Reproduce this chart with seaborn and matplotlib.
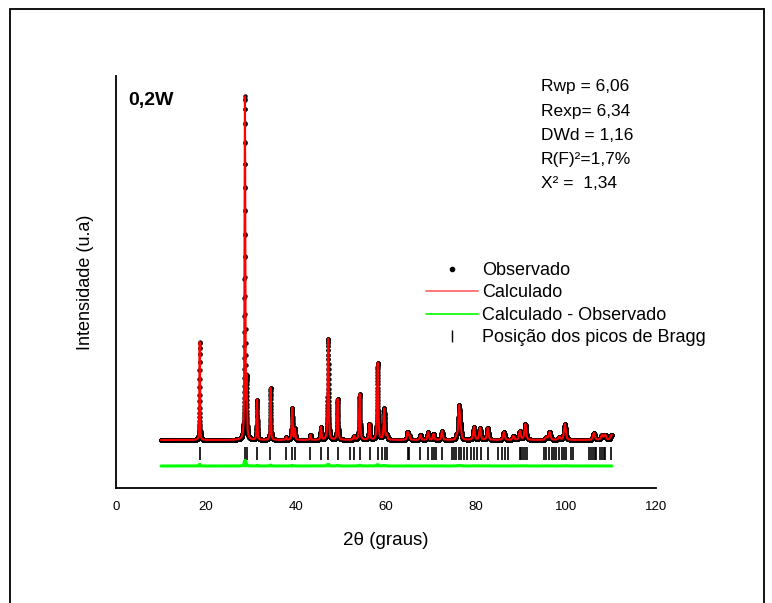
import numpy as np
import pandas as pd
import seaborn as sns
import matplotlib.pyplot as plt
from matplotlib.lines import Line2D

# ---------------- data ----------------
# reflection positions (2theta, deg) and peak heights above background (counts)
peak_pos = [18.6, 28.65, 29.05, 31.35, 34.35, 37.8, 39.15, 39.75, 43.2, 45.55,
            47.15, 49.25, 52.9, 54.15, 56.3, 58.15, 59.6, 60.2, 64.8, 65.2,
            67.65, 69.35, 70.55, 72.45, 75.7, 76.25, 76.6, 79.55, 80.9, 82.6,
            86.2, 88.3, 89.75, 90.95, 95.6, 96.35, 98.5, 99.75, 106.2, 108.0,
            108.7, 110.1]
peak_height = [2940, 10260, 1650, 1200, 1560, 90, 960, 330, 150, 390,
               3030, 1230, 120, 1380, 480, 2310, 930, 150, 240, 120,
               150, 240, 180, 270, 120, 990, 300, 390, 360, 360,
               240, 120, 270, 480, 90, 240, 90, 480, 210, 150,
               150, 150]
background = 300.0

# Bragg reflection markers (2theta)
bragg_pos = [18.59, 28.6, 29.0, 31.36, 34.30, 37.79, 39.06, 39.70, 43.11, 45.49,
             47.16, 49.30, 52.0, 52.79, 54.14, 56.36, 58.19, 59.14, 59.70, 60.18,
             64.9, 65.1, 67.64, 69.30, 70.25, 70.65, 71.05, 72.48, 74.62, 75.02,
             75.57, 76.21, 76.60, 77.24, 78.03, 78.83, 79.54, 80.33, 81.21, 82.56,
             84.78, 85.73, 86.37, 87.16, 89.70, 90.10, 90.49, 90.89, 91.44, 95.10,
             95.65, 96.29, 96.84, 97.40, 97.87, 98.43, 99.06, 99.62, 100.02, 101.05,
             101.60, 105.18, 105.57, 105.97, 106.36, 106.76, 107.56, 107.95, 108.35,
             108.75, 110.10]

stats_lines = ["Rwp = 6,06", "Rexp= 6,34", "DWd = 1,16", "R(F)²=1,7%", "X² =  1,34"]
sample_label = "0,2W"
xticks = [0, 20, 40, 60, 80, 100, 120]

# ---------------- profile from the peak list ----------------
two_theta = np.arange(10.0, 110.2, 0.01)


def pseudo_voigt(x, x0, fwhm, eta=0.55):
    d = (x - x0) / fwhm
    return eta / (1 + 4 * d ** 2) + (1 - eta) * np.exp(-4 * np.log(2) * d ** 2)


def profile(scale):
    y = np.full_like(two_theta, background)
    for p, h in zip(peak_pos, peak_height):
        w = (0.12 + 0.004 * (p - 10)) * scale
        y += h * pseudo_voigt(two_theta, p, w)
    return y


calc = profile(1.0)
obs = profile(0.975)
diff_offset = -480
diff = calc - obs + diff_offset

df = pd.DataFrame({"x": two_theta, "obs": obs, "calc": calc, "diff": diff})

# ---------------- figure ----------------
sns.set_theme(style="white")
plt.rcParams['font.family'] = ['Liberation Sans', 'DejaVu Sans']
plt.rcParams['text.color'] = 'black'
plt.rcParams['axes.labelcolor'] = 'black'
plt.rcParams['xtick.color'] = 'black'
plt.rcParams['ytick.color'] = 'black'

fig = plt.figure(figsize=(7.72, 6.03), dpi=100)
ax = fig.add_axes([116 / 772, 1 - 488 / 603, 540 / 772, 412 / 603])

sns.scatterplot(data=df, x="x", y="obs", ax=ax, color="black", s=10,
                linewidth=0, marker="o", zorder=2)
sns.lineplot(data=df, x="x", y="calc", ax=ax, color="#ff0000", lw=1.5,
             estimator=None, sort=False, zorder=3)
sns.lineplot(data=df, x="x", y="diff", ax=ax, color="#00ff00", lw=2.2,
             estimator=None, sort=False, zorder=3)
ax.vlines(bragg_pos, -300, 90, color="black", lw=1.2, zorder=2)

ax.set_xlim(0, 120)
ax.set_ylim(-1140, 11220)
ax.set_xticks(xticks)
ax.set_xticklabels([str(t) for t in xticks], fontsize=9.5, color="black")
ax.set_yticks([])
ax.tick_params(axis="x", length=0, pad=9)
ax.set_xlabel("2θ (graus)", fontsize=13.5, labelpad=14, color="black")
ax.set_ylabel("Intensidade (u.a)", fontsize=13, labelpad=16, color="black")

for s in ["top", "right"]:
    ax.spines[s].set_visible(False)
for s in ["left", "bottom"]:
    ax.spines[s].set_color("black")
    ax.spines[s].set_linewidth(1.3)

# legend
handles = [
    Line2D([], [], ls="none", marker="o", color="black", markersize=3),
    Line2D([], [], color="#ff6060", lw=1.2),
    Line2D([], [], color="#00ff00", lw=1.2),
    Line2D([], [], ls="none", marker="|", color="black", markersize=8),
]
labels = ["Observado", "Calculado", "Calculado - Observado",
          "Posição dos picos de Bragg"]
leg = ax.legend(handles, labels, loc="upper left",
                bbox_to_anchor=((426 - 116) / 540, (488 - 262) / 412),
                frameon=False, fontsize=13, handlelength=2.9, handletextpad=0.2,
                borderpad=0, borderaxespad=0, labelspacing=0.3)
for t in leg.get_texts():
    t.set_color("black")

# statistics text
for i, line in enumerate(stats_lines):
    fig.text(541 / 772, 1 - (87 + i * 24.2) / 603, line, fontsize=12.5,
             va="center", ha="left", color="black")

fig.text(128 / 772, 1 - 100 / 603, sample_label, fontsize=14,
         fontweight="bold", va="center", ha="left", color="black")

# outer frame
for xs, ys in [([10, 764], [9, 9]), ([764, 764], [9, 603]), ([10, 10], [9, 603])]:
    fig.add_artist(Line2D([x / 772 for x in xs], [1 - y / 603 for y in ys],
                          color="black", lw=1.3))

fig.savefig("out.png", dpi=100)
